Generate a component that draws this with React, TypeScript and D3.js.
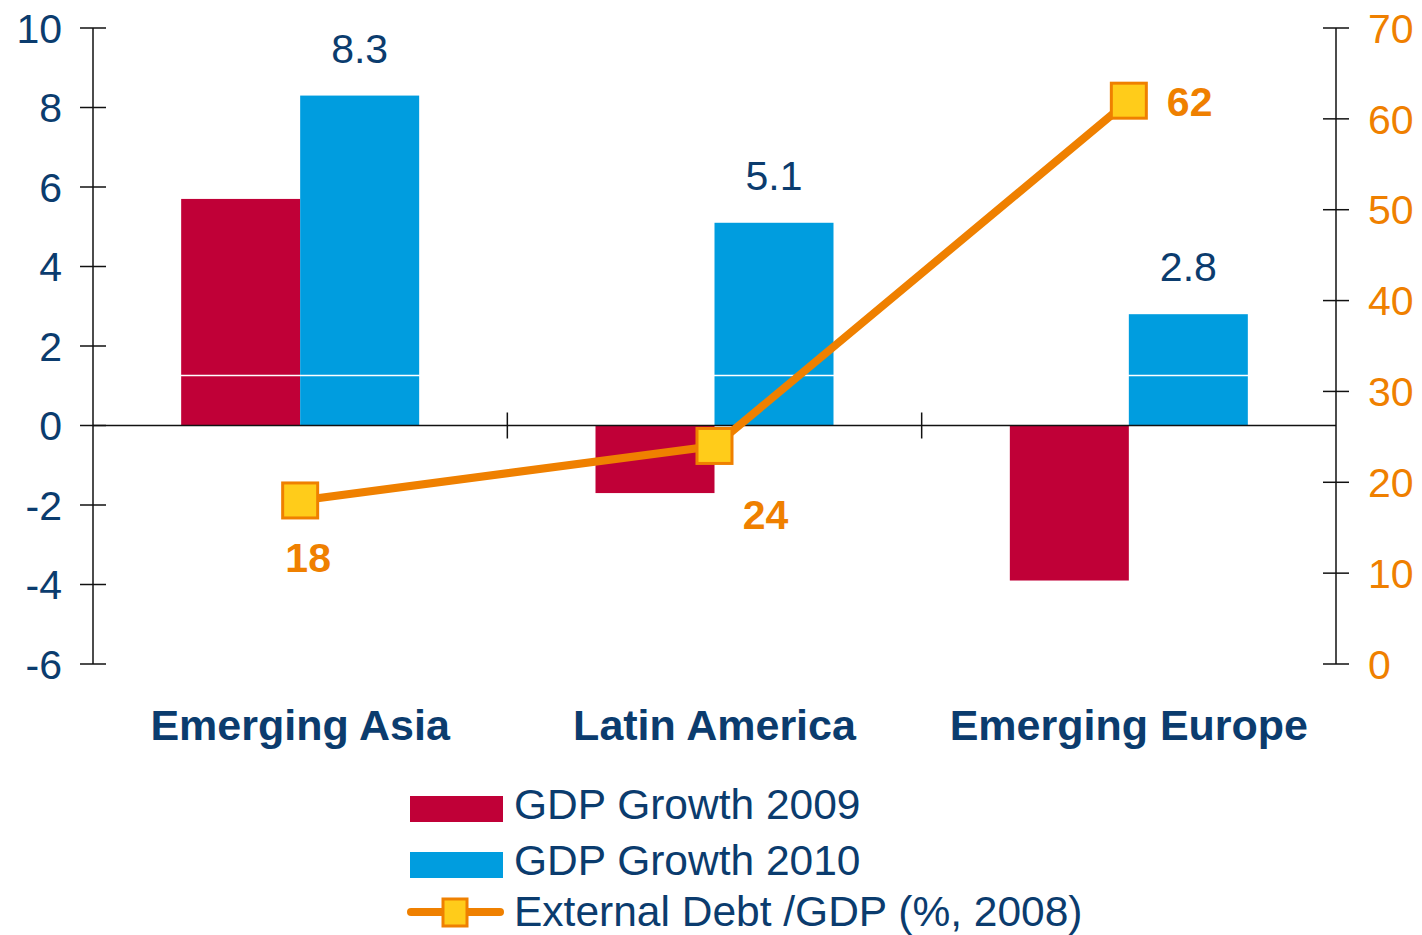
import React from "react";
import * as d3 from "d3";

const categories = ["Emerging Asia", "Latin America", "Emerging Europe"];
const growth2009 = [5.7, -1.7, -3.9];
const growth2010 = [8.3, 5.1, 2.8];
const debtGdp2008 = [18, 24, 62];
const leftTicks = [-6, -4, -2, 0, 2, 4, 6, 8, 10];
const rightTicks = [0, 10, 20, 30, 40, 50, 60, 70];
const legendLabels = ["GDP Growth 2009", "GDP Growth 2010", "External Debt /GDP (%, 2008)"];
const whiteRuleValue = 1.26;

// label placement offsets for the debt labels (dx, dy relative to point)
const debtLabelOffsets = [
  { dx: 8, dy: 72, anchor: "middle" },
  { dx: 51, dy: 83, anchor: "middle" },
  { dx: 38, dy: 15, anchor: "start" },
];

const W = 1422;
const H = 935;
const NAVY = "#0B3C6E";
const RED = "#C00037";
const BLUE = "#009DDF";
const ORANGE = "#EF8000";
const YELLOW = "#FFCC1A";
const FONT = "'Liberation Sans', Arial, sans-serif";

export default function App() {
  const x = d3.scaleBand<string>().domain(categories).range([93, 1336]).padding(0);
  const yL = d3.scaleLinear().domain([-6, 10]).range([664, 28]);
  const yR = d3.scaleLinear().domain([0, 70]).range([664, 28]);
  const bw = 119;
  const cx = (c: string) => (x(c) as number) + x.bandwidth() / 2;

  const linePts: [number, number][] = categories.map((c, i) => [cx(c), yR(debtGdp2008[i])]);
  const lineGen = d3.line();

  const boundaries = categories.slice(1).map((c) => x(c) as number);

  return (
    <svg
      width={W}
      height={H}
      style={{ position: "absolute", left: 0, top: 0, background: "#fff" }}
      fontFamily={FONT}
    >
      {/* bars */}
      {categories.map((c, i) => {
        const v1 = growth2009[i];
        const v2 = growth2010[i];
        return (
          <g key={c}>
            <rect
              x={cx(c) - bw}
              y={yL(Math.max(0, v1))}
              width={bw}
              height={Math.abs(yL(v1) - yL(0))}
              fill={RED}
            />
            <rect
              x={cx(c)}
              y={yL(Math.max(0, v2))}
              width={bw}
              height={Math.abs(yL(v2) - yL(0))}
              fill={BLUE}
            />
            <text
              x={cx(c) + bw / 2}
              y={yL(v2) - 33}
              textAnchor="middle"
              fontSize={41}
              fill={NAVY}
            >
              {v2.toFixed(1)}
            </text>
          </g>
        );
      })}
      {/* white rule artifact across bars */}
      <line x1={93} x2={1336} y1={yL(whiteRuleValue)} y2={yL(whiteRuleValue)} stroke="#fff" strokeWidth={1.5} />

      {/* zero line & category ticks */}
      <line x1={93} x2={1336} y1={yL(0)} y2={yL(0)} stroke="#111" strokeWidth={1.5} />
      {boundaries.map((b, i) => (
        <line key={i} x1={b} x2={b} y1={yL(0) - 13} y2={yL(0) + 13} stroke="#111" strokeWidth={1.5} />
      ))}

      {/* left axis */}
      <line x1={93} x2={93} y1={yL(10)} y2={yL(-6)} stroke="#111" strokeWidth={1.5} />
      {leftTicks.map((t) => (
        <g key={t}>
          <line x1={80} x2={106} y1={yL(t)} y2={yL(t)} stroke="#111" strokeWidth={1.5} />
          <text x={62} y={yL(t)} dy="0.36em" textAnchor="end" fontSize={41} fill={NAVY}>
            {t}
          </text>
        </g>
      ))}

      {/* right axis */}
      <line x1={1336} x2={1336} y1={yR(70)} y2={yR(0)} stroke="#111" strokeWidth={1.5} />
      {rightTicks.map((t) => (
        <g key={t}>
          <line x1={1323} x2={1349} y1={yR(t)} y2={yR(t)} stroke="#111" strokeWidth={1.5} />
          <text x={1368} y={yR(t)} dy="0.36em" textAnchor="start" fontSize={41} fill={ORANGE}>
            {t}
          </text>
        </g>
      ))}

      {/* debt line */}
      <path d={lineGen(linePts) || ""} fill="none" stroke={ORANGE} strokeWidth={8} strokeLinejoin="round" />
      {linePts.map(([px, py], i) => (
        <g key={i}>
          <rect x={px - 17.5} y={py - 17.5} width={35} height={35} fill={YELLOW} stroke={ORANGE} strokeWidth={3} />
          <text
            x={px + debtLabelOffsets[i].dx}
            y={py + debtLabelOffsets[i].dy}
            textAnchor={debtLabelOffsets[i].anchor as any}
            fontSize={41}
            fontWeight="bold"
            fill={ORANGE}
          >
            {debtGdp2008[i]}
          </text>
        </g>
      ))}

      {/* category labels */}
      {categories.map((c) => (
        <text key={c} x={cx(c)} y={740} textAnchor="middle" fontSize={43} fontWeight="bold" fill={NAVY}>
          {c}
        </text>
      ))}

      {/* legend */}
      <g>
        <rect x={410} y={796} width={93} height={26} fill={RED} />
        <text x={514} y={819} fontSize={42.5} fill={NAVY}>
          {legendLabels[0]}
        </text>
        <rect x={410} y={852} width={93} height={26} fill={BLUE} />
        <text x={514} y={875} fontSize={42.5} fill={NAVY}>
          {legendLabels[1]}
        </text>
        <line x1={411} x2={500} y1={912} y2={912} stroke={ORANGE} strokeWidth={8} strokeLinecap="round" />
        <rect x={443} y={899} width={24} height={27} fill={YELLOW} stroke={ORANGE} strokeWidth={3} />
        <text x={514} y={926} fontSize={42.5} fill={NAVY}>
          {legendLabels[2]}
        </text>
      </g>
    </svg>
  );
}
